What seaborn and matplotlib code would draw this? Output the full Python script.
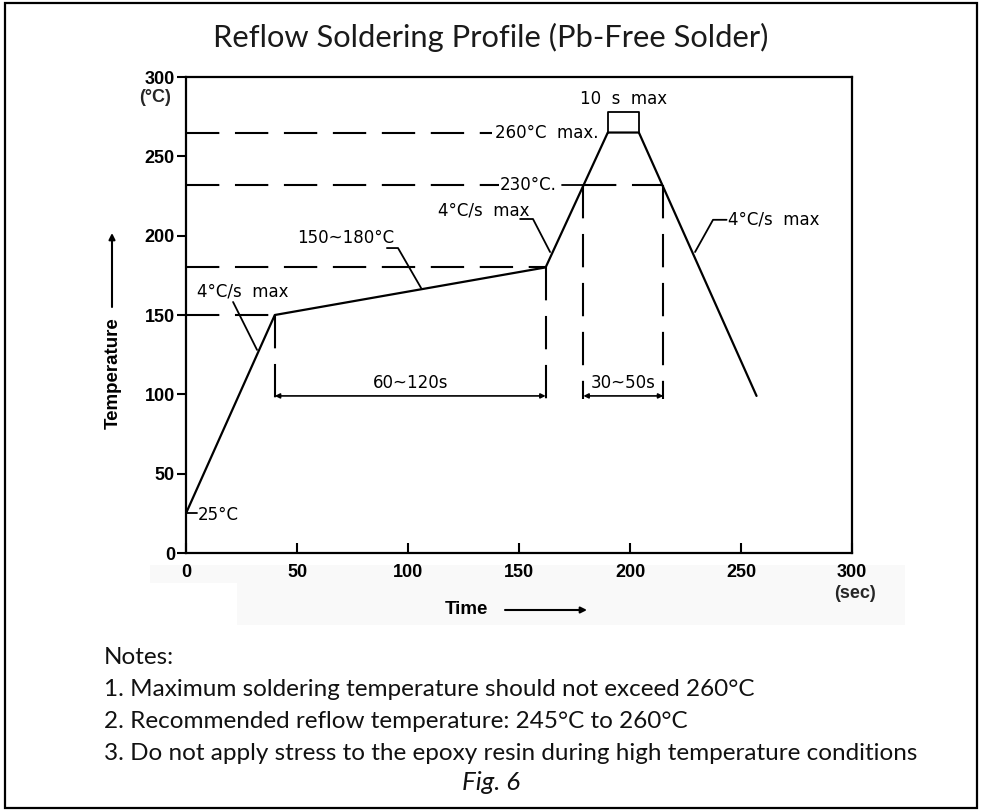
import matplotlib
matplotlib.use("Agg")
import matplotlib.pyplot as plt
import seaborn as sns
import pandas as pd
from matplotlib.patches import Rectangle

# ---------------- data ----------------
time_s = [0, 40, 162, 190, 204, 257]
temp_c = [25, 150, 180, 265, 265, 99]
x_ticks = [0, 50, 100, 150, 200, 250, 300]
y_ticks = [0, 50, 100, 150, 200, 250, 300]
x_tick_labels = ["0", "50", "100", "150", "200", "250", "300"]
y_tick_labels = ["0", "50", "100", "150", "200", "250", "300"]

preheat_temp = 150
soak_temp = 180
liquidus_temp = 232
peak_temp = 265
soak_start, soak_end = 40, 162
liq_start, liq_end = 179, 215
peak_start, peak_end = 190, 204
dim_level = 99

title = "Reflow Soldering Profile (Pb-Free Solder)"
notes = [
    "Notes:",
    "1. Maximum soldering temperature should not exceed 260°C",
    "2. Recommended reflow temperature: 245°C to 260°C",
    "3. Do not apply stress to the epoxy resin during high temperature conditions",
]
caption = "Fig. 6"

# ---------------- figure ----------------
sns.set_theme(style="white")
plt.rcParams["font.family"] = ["DejaVu Sans"]

W, H = 982, 810
fig = plt.figure(figsize=(9.82, 8.10), dpi=100)
fig.patch.set_facecolor("white")


def fx(px):
    return px / W


def fy(py):
    return 1 - py / H


ax = fig.add_axes([fx(186), fy(553), fx(852) - fx(186), fy(77) - fy(553)])
ax.set_facecolor("white")

df = pd.DataFrame({"Time": time_s, "Temperature": temp_c})
sns.lineplot(data=df, x="Time", y="Temperature", ax=ax, color="black",
             lw=1.6, sort=False, zorder=5)

ax.set_xlim(0, 300)
ax.set_ylim(0, 300)
ax.set_xticks(x_ticks)
ax.set_xticklabels(x_tick_labels)
ax.set_yticks(y_ticks)
ax.set_yticklabels(y_tick_labels)
ax.set_xlabel("")
ax.set_ylabel("")
for s in ax.spines.values():
    s.set_visible(True)
    s.set_color("black")
    s.set_linewidth(1.6)
tick_font = dict(family="Liberation Sans", weight="bold", size=13)
ax.tick_params(axis="x", direction="in", length=7, width=1.5, pad=8,
               colors="black", bottom=True)
ax.tick_params(axis="y", direction="out", length=6.5, width=1.5, pad=1.5,
               colors="black", left=True)
for lab in ax.get_xticklabels() + ax.get_yticklabels():
    lab.set_fontfamily("Liberation Sans")
    lab.set_fontweight("bold")
    lab.set_fontsize(13)

DASH = (0, (16, 7.5))
dkw = dict(color="black", lw=1.5, linestyle=DASH, zorder=3)
# horizontal reference levels
ax.plot([0, soak_start], [preheat_temp, preheat_temp], **dkw)
ax.plot([0, soak_end], [soak_temp, soak_temp], **dkw)
ax.plot([0, 141], [liquidus_temp, liquidus_temp], **dkw)
ax.plot([liq_start, liq_end], [liquidus_temp, liquidus_temp], **dkw)
ax.plot([0, 138], [peak_temp, peak_temp], **dkw)
# vertical reference lines
ax.plot([soak_start, soak_start], [preheat_temp, dim_level - 2], **dkw)
ax.plot([soak_end, soak_end], [soak_temp, dim_level - 2], **dkw)
ax.plot([liq_start, liq_start], [liquidus_temp, dim_level - 2], **dkw)
ax.plot([liq_end, liq_end], [liquidus_temp, dim_level - 2], **dkw)

skw = dict(color="black", lw=1.3, zorder=4)
# dimension arrows
for a, b in [(soak_start, soak_end), (liq_start, liq_end)]:
    ax.annotate("", xy=(a, dim_level), xytext=(b, dim_level),
                arrowprops=dict(arrowstyle="<|-|>", color="black", lw=1.2,
                                mutation_scale=7, shrinkA=0, shrinkB=0))
afont = dict(family="DejaVu Sans", size=12, color="black")
ax.text((soak_start + soak_end) / 2, 107, "60~120s", ha="center", va="center", **afont)
ax.text((liq_start + liq_end) / 2, 107, "30~50s", ha="center", va="center", **afont)

# peak bracket
ax.plot([peak_start, peak_start, peak_end, peak_end],
        [peak_temp, 278, 278, peak_temp], **skw)
ax.text((peak_start + peak_end) / 2, 286, "10  s  max", ha="center", va="center", **afont)

# labels with leaders
ax.text(139, peak_temp, "260°C  max.", ha="left", va="center", **afont)
ax.text(141.5, liquidus_temp, "230°C.", ha="left", va="center", **afont)
ax.plot([169.5, liq_start], [liquidus_temp, liquidus_temp], **skw)

ax.text(113.5, 216, "4°C/s  max", ha="left", va="center", **afont)
ax.plot([150.5, 156.3, 164], [210.5, 210.5, 189.7], **skw)

ax.text(50, 198.5, "150~180°C", ha="left", va="center", **afont)
ax.plot([90.5, 95.5, 105.9], [192.2, 192.2, 167], **skw)

ax.text(5, 165, "4°C/s  max", ha="left", va="center", **afont)
ax.plot([21.2, 32], [158.2, 128], **skw)

ax.text(5.2, 24, "25°C", ha="left", va="center", **afont)
ax.plot([0, 5], [25, 25], **skw)

ax.text(244, 210, "4°C/s  max", ha="left", va="center", **afont)
ax.plot([243.5, 237.4, 229.3], [210, 210, 189.7], **skw)

# unit labels
fig.text(fx(155), fy(98), "(°C)", ha="center", va="center", **tick_font)
fig.text(fx(855), fy(593), "(sec)", ha="center", va="center", **tick_font)

# axis titles with arrows
lab_font = dict(family="Liberation Sans", weight="bold", size=13.5, color="black")
fig.text(fx(113), fy(373), "Temperature", rotation=90, ha="center", va="center", **lab_font)
ax.annotate("", xy=(fx(112), fy(233)), xytext=(fx(112), fy(307)),
            xycoords="figure fraction", textcoords="figure fraction",
            arrowprops=dict(arrowstyle="-|>", color="black", lw=1.5,
                            mutation_scale=9, shrinkA=0, shrinkB=0))
fig.text(fx(466), fy(610), "Time", ha="center", va="center", **lab_font)
ax.annotate("", xy=(fx(587), fy(610)), xytext=(fx(505), fy(610)),
            xycoords="figure fraction", textcoords="figure fraction",
            arrowprops=dict(arrowstyle="-|>", color="black", lw=1.5,
                            mutation_scale=9, shrinkA=0, shrinkB=0))

# light band behind x tick labels
fig.patches.append(Rectangle((fx(150), fy(625)), fx(905) - fx(150), fy(565) - fy(625),
                             transform=fig.transFigure, fc="#f9f9f9", ec="none", zorder=-2))
fig.patches.append(Rectangle((fx(150), fy(625)), fx(237) - fx(150), fy(583) - fy(625),
                             transform=fig.transFigure, fc="white", ec="none", zorder=-1))
# outer border
fig.patches.append(Rectangle((fx(5), fy(808)), fx(977) - fx(5), fy(3) - fy(808),
                             transform=fig.transFigure, fill=False, ec="black", lw=1.6, zorder=10))

# title / notes / caption
t_title = fig.text(fx(491), fy(37), title, ha="center", va="center",
                   family="Lato", weight="normal", fontsize=20, color="#1a1a1a")
note_objs = []
for i, n in enumerate(notes):
    note_objs.append(fig.text(fx(104), fy(657 + 32 * i), n, ha="left", va="center",
                              family="Lato", fontsize=15, color="#111111"))
t_cap = fig.text(fx(491), fy(782), caption, ha="center", va="center",
                 family="Lato", style="italic", fontsize=17, color="#111111")


def width(t):
    fig.canvas.draw()
    return t.get_window_extent(fig.canvas.get_renderer()).width


def fit(t, target):
    t.set_fontsize(t.get_fontsize() * target / width(t))


fit(t_title, 557)
r1 = (767 - 104) / width(note_objs[1])
r3 = (906 - 104) / width(note_objs[3])
note_size = note_objs[3].get_fontsize() * (r1 + r3) / 2
for n in note_objs:
    n.set_fontsize(note_size)
fit(t_cap, 58)

fig.savefig("out.png", dpi=100, facecolor="white")
